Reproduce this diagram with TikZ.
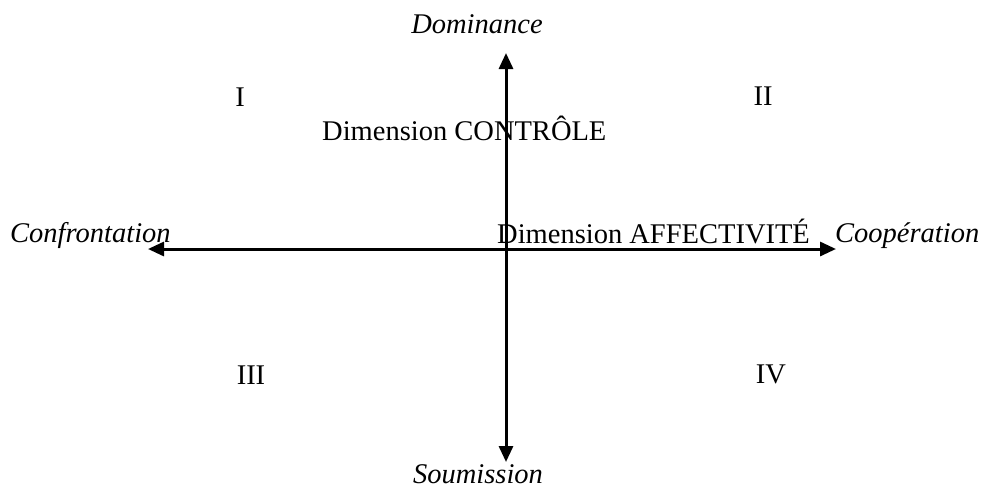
\documentclass[tikz,border=0pt]{standalone}
\usepackage{fontspec}
\setmainfont{Liberation Serif}
\usetikzlibrary{arrows.meta}
\begin{document}
\begin{tikzpicture}[x=1pt,y=-1pt,
  lbl/.style={inner sep=0pt,anchor=base,font=\fontsize{28.5}{34}\selectfont},
  ilbl/.style={lbl,font=\fontsize{28.5}{34}\selectfont\itshape},
  axis/.style={line width=3pt,-{Triangle[length=16pt,width=14pt]}}]
\useasboundingbox (0,0) rectangle (983,491);
\coordinate (o) at (506,249);
\coordinate (top) at (506,53);
\coordinate (bot) at (506,462);
\coordinate (lft) at (148,249);
\coordinate (rgt) at (836,249);
\draw[axis] (o) -- (top);
\draw[axis] (o) -- (bot);
\draw[axis] (o) -- (lft);
\draw[axis] (o) -- (rgt);
\node[ilbl] (dom) at (477,33) {Dominance};
\node[ilbl] (sou) at (478,483) {Soumission};
\node[ilbl,anchor=base west] (con) at (10,242) {Confrontation};
\node[ilbl,anchor=base west] (coo) at (835,242) {Coopération};
\node[lbl,anchor=base west] (aff) at (497,243) {Dimension AFFECTIVITÉ};
\node[lbl,anchor=base west] (ctl) at (322,140) {Dimension CONTRÔLE};
\node[lbl] (q1) at (240,106) {I};
\node[lbl] (q2) at (763,105) {II};
\node[lbl] (q3) at (251,384) {III};
\node[lbl] (q4) at (771,383) {IV};
\end{tikzpicture}
\end{document}
